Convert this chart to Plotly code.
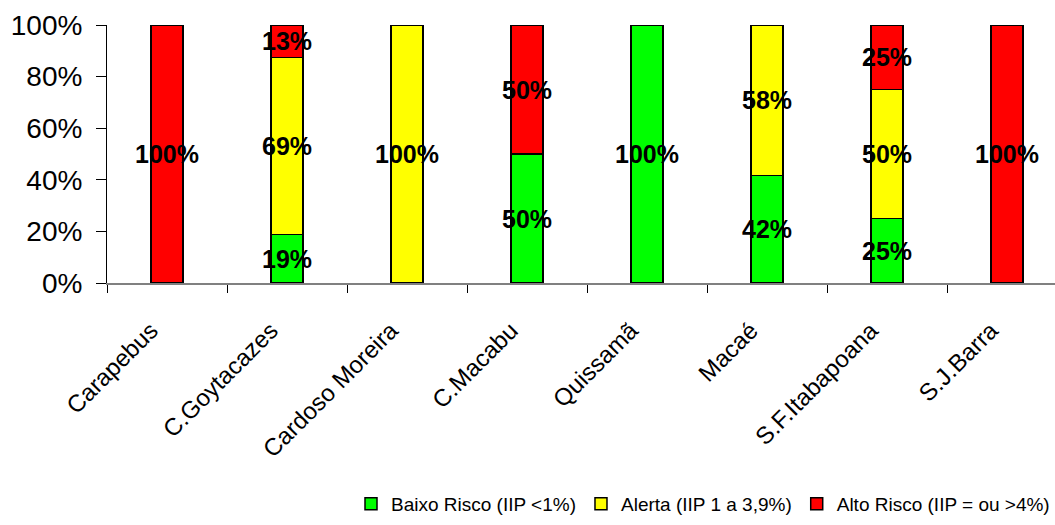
import plotly.graph_objects as go

categories = ["Carapebus", "C.Goytacazes", "Cardoso Moreira", "C.Macabu",
              "Quissamã", "Macaé", "S.F.Itabapoana", "S.J.Barra"]
baixo = [0, 18.75, 0, 50, 100, 41.67, 25, 0]
alerta = [0, 68.75, 100, 0, 0, 58.33, 50, 0]
alto = [100, 12.5, 0, 50, 0, 0, 25, 100]
series_names = ["Baixo Risco (IIP <1%)", "Alerta (IIP 1 a 3,9%)", "Alto Risco (IIP = ou >4%)"]
colors = ["#00FF00", "#FFFF00", "#FF0000"]
y_ticks = [0, 20, 40, 60, 80, 100]
y_tick_text = [f"{v}%" for v in y_ticks]


def labels(vals):
    return [f"{int(v + 0.5)}%" if v > 0 else "" for v in vals]


fig = go.Figure()
for vals, name, col in zip([baixo, alerta, alto], series_names, colors):
    fig.add_trace(go.Bar(
        x=categories, y=vals, name=name,
        marker=dict(color=col, line=dict(color="black", width=1.5)),
        text=labels(vals), textposition="inside", insidetextanchor="middle",
        constraintext="none", textangle=0,
        textfont=dict(family="Arial, Liberation Sans", size=25, color="black", weight="bold"),
        width=0.27,
    ))

fig.update_layout(
    barmode="stack",
    width=1055, height=525,
    margin=dict(l=107, r=0, t=25, b=242),
    paper_bgcolor="white", plot_bgcolor="white",
    font=dict(family="Arial, Liberation Sans", color="black"),
    showlegend=True,
    legend=dict(orientation="h", x=1.0, xanchor="right", y=-0.93, yanchor="bottom",
                font=dict(size=19), traceorder="normal", itemwidth=30,
                bgcolor="rgba(0,0,0,0)"),
    xaxis=dict(range=[-0.5, 7.4], tickangle=-45, tickson="boundaries", ticks="outside",
               ticklen=8, tickcolor="black", showline=True, linecolor="#808080", linewidth=2,
               tickfont=dict(size=24), showgrid=False, automargin=False,
               ticklabelshift=-16, ticklabelstandoff=22),
    yaxis=dict(range=[0, 100], tickvals=y_ticks, ticktext=y_tick_text, ticks="outside",
               ticklen=10, tickcolor="black", showline=True, linecolor="black", linewidth=1,
               tickfont=dict(size=28), showgrid=False, zeroline=False, automargin=False,
               ticklabelstandoff=8),
)

fig.write_html("out.html", post_script="document.body.style.margin='0';",
               config={"displayModeBar": False})
